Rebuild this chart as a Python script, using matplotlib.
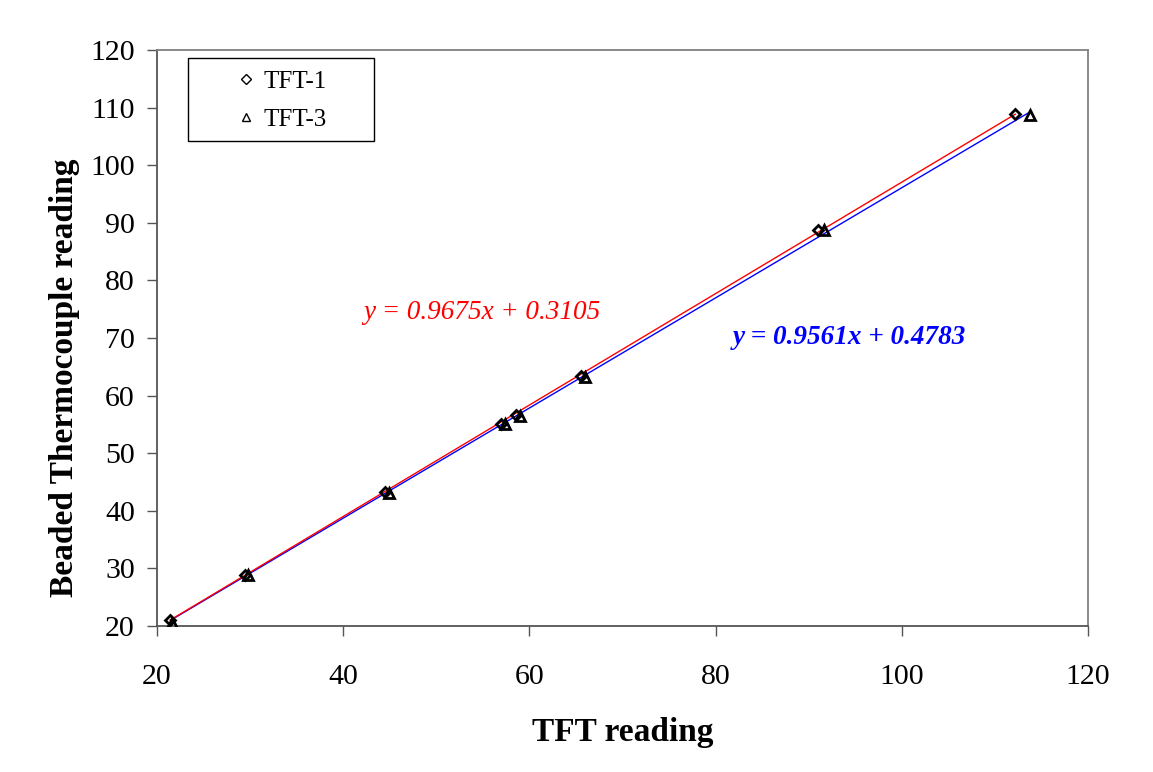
import numpy as np
import matplotlib
matplotlib.use("Agg")
import matplotlib.pyplot as plt
from matplotlib.lines import Line2D
from matplotlib.patches import Rectangle

# Data
tft1_x = [21.4, 29.4, 44.5, 57.0, 58.6, 65.5, 91.0, 112.2]
tft1_y = [21.0, 28.9, 43.3, 55.1, 56.7, 63.4, 88.8, 108.9]
tft3_x = [21.6, 29.8, 44.9, 57.4, 59.0, 66.0, 91.6, 113.8]
tft3_y = [20.6, 28.8, 43.1, 55.0, 56.5, 63.2, 88.7, 108.8]

# Linear trendline coefficients (slope, intercept)
fit1 = (0.9675, 0.3105)
fit3 = (0.9561, 0.4783)

x_ticks = [20, 40, 60, 80, 100, 120]
y_ticks = [20, 30, 40, 50, 60, 70, 80, 90, 100, 110, 120]

plt.rcParams['font.family'] = ['Liberation Serif', 'DejaVu Serif']

W, H = 1153, 772
fig = plt.figure(figsize=(W/100, H/100), dpi=100)
L, R, T, B = 157, 1088, 50, 626
ax = fig.add_axes([L/W, 1-B/H, (R-L)/W, (B-T)/H])

def ax_coords(px, py):
    return ((px-L)/(R-L), (B-py)/(B-T))

# trendlines
xs1 = np.array([min(tft1_x), max(tft1_x)])
xs3 = np.array([min(tft3_x), max(tft3_x)])
ax.plot(xs3, fit3[0]*xs3 + fit3[1], color='#0000ff', lw=1.0, zorder=2)
ax.plot(xs1, fit1[0]*xs1 + fit1[1], color='#ff0000', lw=1.0, zorder=2)

ax.plot(tft1_x, tft1_y, linestyle='none', marker='D', markersize=5.5,
        markerfacecolor='none', markeredgecolor='black', markeredgewidth=2.0,
        zorder=3)
ax.plot(tft3_x, tft3_y, linestyle='none', marker='^', markersize=7,
        markerfacecolor='none', markeredgecolor='black', markeredgewidth=2.0,
        zorder=3)

ax.set_xlim(20, 120)
ax.set_ylim(20, 120)
ax.set_xticks(x_ticks)
ax.set_yticks(y_ticks)
ax.tick_params(axis='both', direction='out', length=7, width=1, color='#555555',
               labelsize=21.5)
ax.tick_params(axis='x', pad=20)
ax.tick_params(axis='y', pad=9)
for s in ax.spines.values():
    s.set_color('#808080')
    s.set_linewidth(1.3)
ax.spines['left'].set_color('#555555')
ax.spines['bottom'].set_color('#555555')

ax.set_xlabel('TFT reading', fontsize=24, fontweight='bold', labelpad=20)
ax.set_ylabel('Beaded Thermocouple reading', fontsize=24, fontweight='bold')
ax.yaxis.set_label_coords(*ax_coords(80, 378))

ax.text(42.2, 72.3, 'y = 0.9675x + 0.3105', color='#ff0000', fontsize=19.5,
        style='italic', va='bottom')
ax.text(81.8, 68.0, 'y = 0.9561x + 0.4783', color='#0000ff', fontsize=19.5,
        style='italic', fontweight='bold', va='bottom')

# legend box
x0, y0 = ax_coords(188, 141)
x1, y1 = ax_coords(374, 58)
ax.add_patch(Rectangle((x0, y0), x1-x0, y1-y0, transform=ax.transAxes,
                       facecolor='white', edgecolor='black', lw=1.0, zorder=4))
handles = [Line2D([], [], linestyle='none', marker='D', markersize=5,
                  markerfacecolor='none', markeredgecolor='black', markeredgewidth=1),
           Line2D([], [], linestyle='none', marker='^', markersize=6,
                  markerfacecolor='none', markeredgecolor='black', markeredgewidth=1)]
leg = ax.legend(handles, ['TFT-1', 'TFT-3'], loc='upper left',
                bbox_to_anchor=ax_coords(234, 70),
                fontsize=18, frameon=False,
                handlelength=1.0, handletextpad=0.2, borderpad=0,
                labelspacing=0.62, borderaxespad=0)
leg.set_zorder(5)

fig.savefig('out.png', dpi=100, facecolor='white')
